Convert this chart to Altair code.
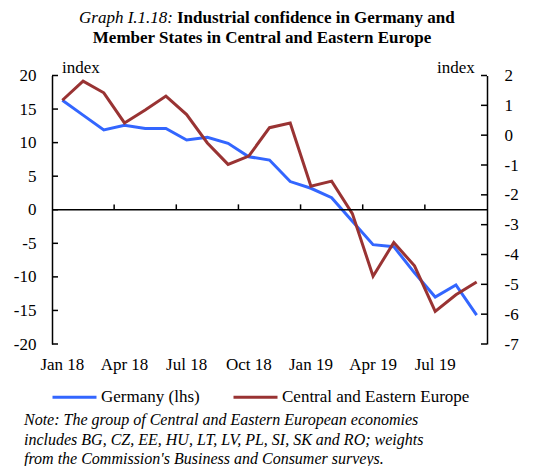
import altair as alt
import pandas as pd

months = ["Jan 18", "Feb 18", "Mar 18", "Apr 18", "May 18", "Jun 18", "Jul 18",
          "Aug 18", "Sep 18", "Oct 18", "Nov 18", "Dec 18", "Jan 19", "Feb 19",
          "Mar 19", "Apr 19", "May 19", "Jun 19", "Jul 19", "Aug 19", "Sep 19"]
germany = [16.3, 14.1, 11.9, 12.6, 12.1, 12.1, 10.4, 10.8, 9.9, 7.9, 7.4, 4.2,
           3.2, 1.8, -1.7, -5.2, -5.5, -9.4, -13.0, -11.2, -15.7]
cee = [1.17, 1.81, 1.42, 0.41, 0.84, 1.31, 0.69, -0.26, -0.98, -0.70, 0.25, 0.41,
       -1.71, -1.54, -2.63, -4.73, -3.60, -4.38, -5.91, -5.35, -4.92]
left_ticks = [-20, -15, -10, -5, 0, 5, 10, 15, 20]
right_ticks = [-7, -6, -5, -4, -3, -2, -1, 0, 1, 2]
quarter_ticks = ["Apr 18", "Jul 18", "Oct 18", "Jan 19", "Apr 19", "Jul 19"]
series_names = ["Germany (lhs)", "Central and Eastern Europe"]
colors = ["#3366FF", "#993333"]
note_lines = [
    "Note: The group of Central and Eastern European economies",
    "includes BG, CZ, EE, HU, LT, LV, PL, SI, SK and RO; weights",
    "from the Commission's Business and Consumer surveys.",
]

FONT = "Liberation Serif"
W, H = 435, 268.5
NEG = "datum.value < 0 ? '-' + abs(datum.value) : '' + datum.value"

df_g = pd.DataFrame({"month": months, "value": germany, "series": series_names[0]})
df_c = pd.DataFrame({"month": months, "value": cee, "series": series_names[1]})

xscale = alt.Scale(domain=months, paddingInner=0, paddingOuter=0)
xaxis = alt.Axis(title=None, domain=False, ticks=False, labelFont=FONT, labelFontSize=17,
                 labelColor="black", labelPadding=12, labelAngle=0,
                 labelExpr="indexof(['Jan','Apr','Jul','Oct'], slice(datum.label,0,3)) >= 0 ? datum.label : ''")
xenc = alt.X("month:N", sort=months, scale=xscale, axis=xaxis)

left_scale = alt.Scale(domain=[-20, 20], nice=False, zero=False)
right_scale = alt.Scale(domain=[-7, 2], nice=False, zero=False)

color_enc = alt.Color("series:N", scale=alt.Scale(domain=series_names, range=colors),
                      legend=alt.Legend(title=None, orient="none", legendX=-1, legendY=298,
                                        direction="horizontal", symbolType="stroke",
                                        symbolSize=1936, symbolStrokeWidth=3, labelFont=FONT,
                                        labelFontSize=17, labelColor="black", labelOffset=3,
                                        labelLimit=400, columnPadding=27, symbolOffset=0,
                                        padding=0))

line_g = alt.Chart(df_g).mark_line(strokeWidth=3).encode(
    x=xenc,
    y=alt.Y("value:Q", scale=left_scale,
            axis=alt.Axis(title=None, values=left_ticks, ticks=False, domainColor="black",
                          domainWidth=1.5, labelFont=FONT, labelFontSize=17, labelColor="black",
                          labelPadding=16, grid=False, labelExpr=NEG)),
    color=color_enc,
)

line_c = alt.Chart(df_c).mark_line(strokeWidth=3).encode(
    x=xenc,
    y=alt.Y("value:Q", scale=right_scale,
            axis=alt.Axis(title=None, orient="right", values=right_ticks, ticks=False,
                          domainColor="black", domainWidth=1.5, labelFont=FONT, labelFontSize=17,
                          labelColor="black", labelPadding=17, grid=False, labelExpr=NEG)),
    color=color_enc,
)

# inward ticks on the left axis
lt = alt.Chart(pd.DataFrame({"v": left_ticks})).mark_rule(color="black", strokeWidth=1.5).encode(
    x=alt.value(0), x2=alt.value(6), y=alt.Y("v:Q", scale=left_scale, axis=None))
# inward ticks on the right axis
rt = alt.Chart(pd.DataFrame({"v": right_ticks})).mark_rule(color="black", strokeWidth=1.5).encode(
    x=alt.value(W - 6), x2=alt.value(W), y=alt.Y("v:Q", scale=right_scale, axis=None))
# zero line
zl = alt.Chart(pd.DataFrame({"v": [0]})).mark_rule(color="black", strokeWidth=1.5).encode(
    x=alt.value(0), x2=alt.value(W), y=alt.Y("v:Q", scale=left_scale, axis=None))
# x ticks on zero line (upward)
xt = alt.Chart(pd.DataFrame({"month": quarter_ticks, "y0": 0, "y1": 0.8})).mark_rule(
    color="black", strokeWidth=1.5).encode(
    x=alt.X("month:N", sort=months, scale=xscale, axis=xaxis, bandPosition=0),
    y=alt.Y("y0:Q", scale=left_scale, axis=None),
    y2="y1:Q")

def txt(text, x, y, align="left", baseline="alphabetic", style="normal", weight="normal", size=17):
    return alt.Chart(pd.DataFrame({"t": [text]})).mark_text(
        align=align, baseline=baseline, font=FONT, fontSize=size, fontStyle=style,
        fontWeight=weight, color="black").encode(
        x=alt.value(x), y=alt.value(y), text="t:N")

texts = [
    txt("Graph I.1.18:", 121, -52.5, align="right", style="italic"),
    txt("Industrial confidence in Germany and", 125, -52.5, weight="bold"),
    txt("Member States in Central and Eastern Europe", 210, -32.5, align="center", weight="bold"),
    txt("index", 10, -7.5, baseline="middle"),
    txt("index", 385, -7.5, baseline="middle"),
]
for i, line in enumerate(note_lines):
    texts.append(txt(line, -28, 349.5 + 19.5 * i, style="italic", size=16))

chart = alt.layer(line_g, line_c, zl, xt, lt, rt, *texts).resolve_scale(
    y="independent").properties(
    width=W, height=H,
    autosize=alt.AutoSizeParams(type="none"),
    padding={"left": 44, "top": 67.5, "right": 39, "bottom": 122},
).configure_view(stroke=None).configure_axis(domainColor="black")

chart.save("out.html", embed_options={"renderer": "svg", "actions": False})
